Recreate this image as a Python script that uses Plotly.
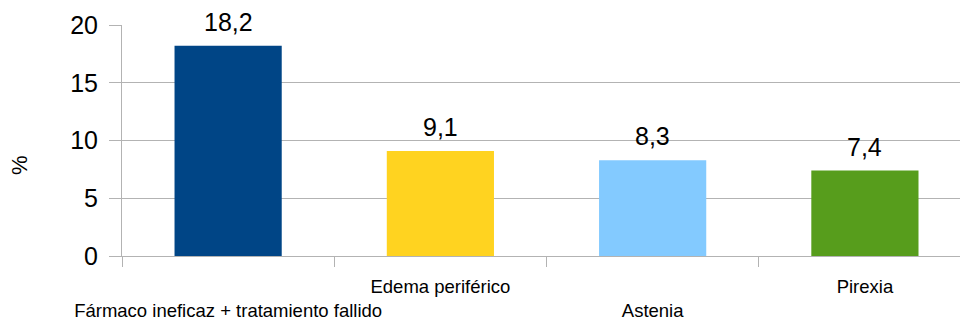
import plotly.graph_objects as go

categories = ["Fármaco ineficaz + tratamiento fallido", "Edema periférico", "Astenia", "Pirexia"]
values = [18.2, 9.1, 8.3, 7.4]
colors = ["#004586", "#ffd320", "#83caff", "#579d1c"]
tick_text = ["<br>" + c if i % 2 == 0 else c for i, c in enumerate(categories)]
value_labels = [f"{v:.1f}".replace(".", ",") for v in values]
y_ticks = [0, 5, 10, 15, 20]

FONT = "Liberation Sans, Arial, sans-serif"

fig = go.Figure()
fig.add_trace(go.Bar(
    x=categories, y=values, marker=dict(color=colors, line=dict(width=0)),
    width=0.505, showlegend=False, hoverinfo="skip",
))

for c, v, t in zip(categories, values, value_labels):
    fig.add_annotation(x=c, y=v, xref="x", yref="y", text=t, showarrow=False,
                       yanchor="bottom", yshift=8,
                       font=dict(family=FONT, size=25, color="#000000"))

fig.add_annotation(x=-0.1217, y=0.394, xref="paper", yref="paper", text="%",
                   showarrow=False, textangle=-90, xanchor="center", yanchor="middle",
                   font=dict(family=FONT, size=22, color="#000000"))

fig.update_layout(
    template="none",
    width=960, height=320,
    margin=dict(l=122, r=0, t=25, b=64, pad=0),
    plot_bgcolor="white", paper_bgcolor="white",
    font=dict(family=FONT, color="#000000"),
    bargap=0.5,
)
fig.update_xaxes(
    type="category", range=[-0.5, 3.448], automargin=False,
    tickmode="array", tickvals=categories, ticktext=tick_text, tickangle=0,
    tickson="boundaries", ticks="outside", ticklen=10, tickcolor="#b3b3b3", tickwidth=1,
    showline=True, linecolor="#b3b3b3", linewidth=1,
    showgrid=False, tickfont=dict(family=FONT, size=18.5, color="#000000"),
    ticklabelstandoff=14,
)
fig.update_yaxes(
    range=[0, 20], tickvals=y_ticks, ticktext=[str(v) for v in y_ticks], automargin=False,
    ticks="outside", ticklen=12, tickcolor="#b3b3b3", tickwidth=1,
    showline=True, linecolor="#b3b3b3", linewidth=1,
    showgrid=True, gridcolor="#b3b3b3", gridwidth=1, zeroline=False,
    tickfont=dict(family=FONT, size=25, color="#000000"),
    ticklabelstandoff=6,
)

fig.write_html("out.html")
